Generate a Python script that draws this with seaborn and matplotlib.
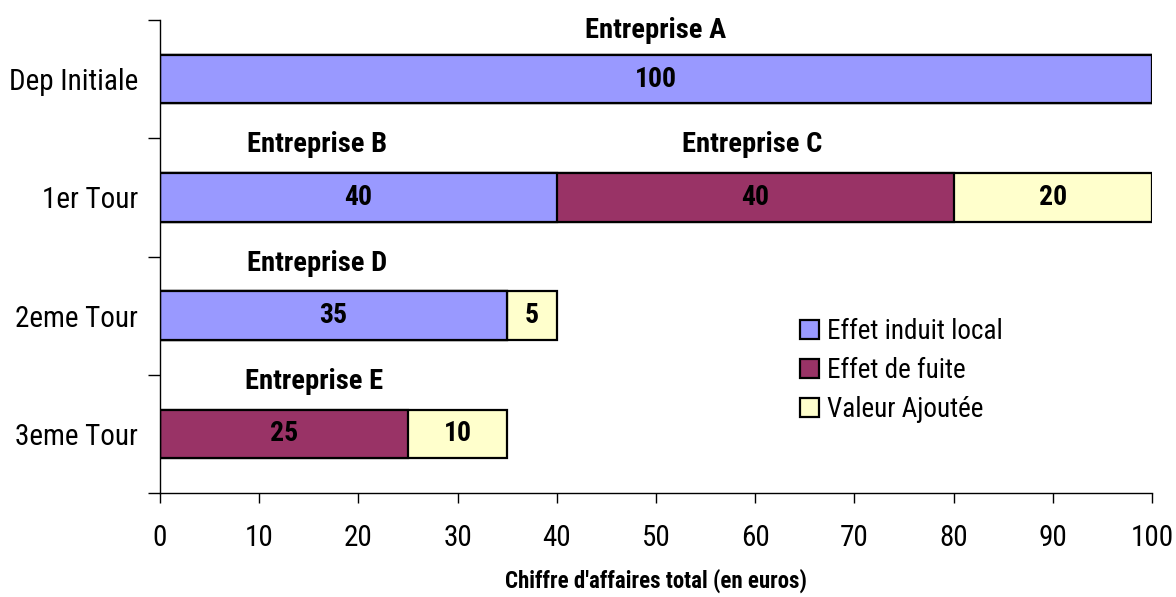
import matplotlib
matplotlib.use("Agg")
import matplotlib.pyplot as plt
import seaborn as sns
import pandas as pd
from matplotlib.patches import Patch

categories = ["Dep Initiale", "1er Tour", "2eme Tour", "3eme Tour"]
effet_induit = [100, 40, 35, 0]
effet_fuite = [0, 40, 0, 25]
valeur_ajoutee = [0, 20, 5, 10]
series_names = ["Effet induit local", "Effet de fuite", "Valeur Ajoutée"]
colors = ["#9999FF", "#993366", "#FFFFCC"]
x_ticks = list(range(0, 101, 10))
x_label = "Chiffre d'affaires total (en euros)"
entreprises = ["Entreprise A", "Entreprise B", "Entreprise C", "Entreprise D", "Entreprise E"]

sns.set_style("white")
plt.rcParams['font.family'] = ['Roboto Condensed', 'DejaVu Sans']
plt.rcParams['text.color'] = 'black'
plt.rcParams['xtick.color'] = 'black'
plt.rcParams['ytick.color'] = 'black'
plt.rcParams['axes.labelcolor'] = 'black'

fig = plt.figure(figsize=(11.76, 5.97), dpi=100)
ax = fig.add_axes([160/1176, 1 - 493/597, (1152-160)/1176, (493-20)/597])

df = pd.DataFrame({"cat": categories, "a": effet_induit, "b": effet_fuite, "c": valeur_ajoutee})
df["cum_b"] = df["a"] + df["b"]
df["cum_c"] = df["cum_b"] + df["c"]

bw = 0.41
for col, color in [("cum_c", colors[2]), ("cum_b", colors[1]), ("a", colors[0])]:
    sns.barplot(data=df, y="cat", x=col, orient="h", color=color, width=bw,
                edgecolor="black", linewidth=1.6, ax=ax, saturation=1, order=categories)

# value labels
for i, row in df.iterrows():
    left = 0
    for v in [row["a"], row["b"], row["c"]]:
        if v > 0:
            ax.text(left + v / 2, i, f"{v}", ha="center", va="center",
                    fontsize=20, fontweight="bold", color="black")
        left += v

# enterprise labels
ent_pos = [(50, -0.41), (15.8, 0.55), (59.7, 0.55), (15.8, 1.56), (15.5, 2.56)]
for name, (x, y) in zip(entreprises, ent_pos):
    ax.text(x, y, name, ha="center", va="center", fontsize=20.5, fontweight="bold")

ax.set_xlim(0, 100)
ax.set_ylim(3.5, -0.5)
ax.set_xticks(x_ticks)
ax.set_xticklabels([str(t) for t in x_ticks], fontsize=21)
ax.set_yticks(range(len(categories)))
ax.set_yticklabels(categories, fontsize=21)
ax.tick_params(axis="y", which="major", length=0, pad=16)
ax.set_yticks([-0.5, 0.5, 1.5, 2.5, 3.5], minor=True)
ax.tick_params(axis="y", which="minor", length=9, width=1, color="black", direction="out", left=True)
ax.tick_params(axis="x", length=7, width=1, color="black", direction="out", pad=15, bottom=True)
ax.set_xlabel(x_label, fontsize=16.5, fontweight="bold", labelpad=12)
ax.set_ylabel("")
for s in ["top", "right"]:
    ax.spines[s].set_visible(False)
for s in ["left", "bottom"]:
    ax.spines[s].set_color("black")
    ax.spines[s].set_linewidth(1)

handles = [Patch(facecolor=c, edgecolor="black", linewidth=1.6) for c in colors]
ax.legend(handles, series_names, loc="upper left", bbox_to_anchor=(0.645, 0.37),
          frameon=False, fontsize=19.5, handlelength=0.7, handleheight=0.7,
          handletextpad=0.3, labelspacing=0.45, borderaxespad=0, borderpad=0)

fig.savefig("out.png", dpi=100)
